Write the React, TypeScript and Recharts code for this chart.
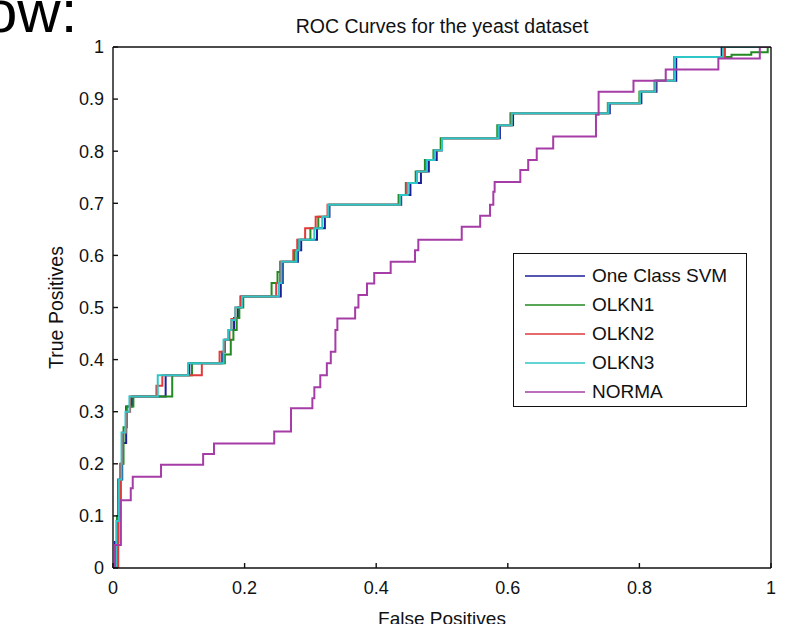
import { LineChart, Line, XAxis, YAxis, Legend } from "recharts";

// ROC points as [false positive rate, true positive rate], top corner of each step
const oneClassSvm: [number, number][] = [
  [0, 0], [0.003, 0.05], [0.008, 0.17], [0.014, 0.24], [0.02, 0.31], [0.029, 0.329],
  [0.08, 0.37], [0.116, 0.393], [0.166, 0.415], [0.17, 0.438], [0.176, 0.457], [0.184, 0.48],
  [0.19, 0.5], [0.194, 0.521], [0.255, 0.547], [0.258, 0.588], [0.281, 0.61], [0.286, 0.63],
  [0.31, 0.652], [0.322, 0.674], [0.329, 0.697], [0.438, 0.716], [0.452, 0.739], [0.468, 0.761],
  [0.48, 0.783], [0.492, 0.802], [0.5, 0.825], [0.588, 0.85], [0.608, 0.873], [0.755, 0.892],
  [0.803, 0.914], [0.826, 0.935], [0.856, 0.981], [0.925, 1], [1, 1],
];
const olkn1: [number, number][] = [
  [0, 0], [0.006, 0.1], [0.011, 0.2], [0.016, 0.27], [0.021, 0.31], [0.031, 0.329],
  [0.09, 0.37], [0.12, 0.393], [0.17, 0.41], [0.179, 0.438], [0.183, 0.457], [0.188, 0.48],
  [0.192, 0.5], [0.198, 0.521], [0.241, 0.547], [0.25, 0.568], [0.255, 0.588], [0.276, 0.61],
  [0.282, 0.63], [0.3, 0.652], [0.312, 0.674], [0.328, 0.697], [0.434, 0.716], [0.445, 0.739],
  [0.46, 0.761], [0.474, 0.783], [0.487, 0.802], [0.498, 0.825], [0.584, 0.85], [0.604, 0.873],
  [0.752, 0.892], [0.8, 0.914], [0.823, 0.935], [0.853, 0.981], [0.94, 0.985], [0.97, 0.99],
  [0.995, 1], [1, 1],
];
const olkn2: [number, number][] = [
  [0, 0], [0.008, 0.13], [0.012, 0.2], [0.015, 0.26], [0.02, 0.3], [0.026, 0.329],
  [0.066, 0.35], [0.075, 0.37], [0.135, 0.393], [0.162, 0.415], [0.17, 0.438], [0.177, 0.457],
  [0.18, 0.478], [0.186, 0.5], [0.194, 0.521], [0.248, 0.547], [0.254, 0.588], [0.274, 0.61],
  [0.28, 0.63], [0.292, 0.652], [0.308, 0.674], [0.326, 0.697], [0.437, 0.716], [0.446, 0.739],
  [0.462, 0.761], [0.476, 0.783], [0.488, 0.802], [0.5, 0.825], [0.586, 0.85], [0.606, 0.873],
  [0.753, 0.892], [0.801, 0.914], [0.824, 0.935], [0.854, 0.981], [0.93, 1], [1, 1],
];
const olkn3: [number, number][] = [
  [0, 0], [0.005, 0.09], [0.009, 0.17], [0.013, 0.26], [0.019, 0.3], [0.025, 0.329],
  [0.068, 0.37], [0.114, 0.393], [0.168, 0.438], [0.175, 0.457], [0.18, 0.476], [0.186, 0.5],
  [0.196, 0.521], [0.252, 0.547], [0.256, 0.588], [0.279, 0.61], [0.283, 0.63], [0.306, 0.652],
  [0.318, 0.674], [0.327, 0.697], [0.436, 0.716], [0.448, 0.739], [0.462, 0.761], [0.477, 0.783],
  [0.489, 0.802], [0.5, 0.825], [0.586, 0.85], [0.606, 0.873], [0.753, 0.892], [0.801, 0.914],
  [0.824, 0.935], [0.854, 0.981], [0.927, 1], [1, 1],
];
const norma: [number, number][] = [
  [0, 0], [0.003, 0.044], [0.012, 0.13], [0.027, 0.153], [0.03, 0.175], [0.073, 0.198],
  [0.137, 0.219], [0.1535, 0.239], [0.245, 0.262], [0.2705, 0.3065], [0.303, 0.326], [0.306, 0.347],
  [0.315, 0.37], [0.325, 0.393], [0.331, 0.415], [0.338, 0.457], [0.341, 0.479], [0.368, 0.5],
  [0.373, 0.524], [0.386, 0.546], [0.397, 0.566], [0.422, 0.588], [0.459, 0.61], [0.464, 0.63],
  [0.53, 0.655], [0.558, 0.676], [0.573, 0.697], [0.578, 0.722], [0.58, 0.741], [0.619, 0.764],
  [0.631, 0.783], [0.644, 0.805], [0.669, 0.828], [0.734, 0.87], [0.738, 0.914], [0.791, 0.935],
  [0.84, 0.957], [0.92, 0.978], [0.983, 1], [1, 1],
];

const seriesNames = ["One Class SVM", "OLKN1", "OLKN2", "OLKN3", "NORMA"];
const seriesPoints = [oneClassSvm, olkn1, olkn2, olkn3, norma];
const seriesColors = ["#1e1e9a", "#218a21", "#e03a3a", "#2ec6c6", "#a63ca6"];

const xTicks = [0, 0.2, 0.4, 0.6, 0.8, 1];
const yTicks = [0, 0.1, 0.2, 0.3, 0.4, 0.5, 0.6, 0.7, 0.8, 0.9, 1];

const FONT = "'Liberation Sans', Arial, Helvetica, sans-serif";
const tickStyle = { fontSize: 18, fill: "#111", fontFamily: FONT };
const frame = { stroke: "#111", strokeWidth: 1.4 };

function LegendBox() {
  return (
    <div
      style={{
        width: 234, height: 154, boxSizing: "border-box", border: "1.5px solid #111",
        background: "#fff", paddingTop: 7, fontFamily: FONT, fontSize: 19, color: "#111",
      }}
    >
      {seriesNames.map((name, i) => (
        <div key={name} style={{ height: 29.2, display: "flex", alignItems: "center" }}>
          <svg width={60} height={4} style={{ marginLeft: 10.5, marginRight: 7.5 }}>
            <line x1={0} y1={2} x2={60} y2={2} stroke={seriesColors[i]} strokeWidth={1.6} />
          </svg>
          <span>{name}</span>
        </div>
      ))}
    </div>
  );
}

export default function App() {
  return (
    <div style={{ position: "absolute", left: 0, top: 0, width: 785, height: 624, background: "#fff", overflow: "hidden" }}>
      <svg width={200} height={60} style={{ position: "absolute", left: 0, top: 0 }}>
        <text x={-16} y={32} fontSize={60} fontFamily={FONT} fill="#000">ow:</text>
      </svg>
      <LineChart width={785} height={624} margin={{ top: 46, right: 13, bottom: 0, left: 0 }}>
        <XAxis
          dataKey="fpr" type="number" domain={[0, 1]} ticks={xTicks} allowDataOverflow
          height={56} tick={tickStyle} tickSize={-5} tickMargin={18}
          tickLine={frame} axisLine={frame}
          tickFormatter={(v: number) => String(v)}
          label={{ value: "False Positives", position: "bottom", offset: -12, fontSize: 19, fill: "#111", fontFamily: FONT }}
        />
        <XAxis
          xAxisId="top" orientation="top" type="number" domain={[0, 1]} ticks={xTicks}
          height={1} tick={false} tickSize={-5} tickLine={frame} axisLine={frame}
          label={{ value: "ROC Curves for the yeast dataset", position: "top", offset: 13, fontSize: 19.5, fill: "#111", fontFamily: FONT }}
        />
        <YAxis
          type="number" domain={[0, 1]} ticks={yTicks} allowDataOverflow
          width={113} tick={tickStyle} tickSize={-5} tickMargin={14}
          tickLine={frame} axisLine={frame}
          tickFormatter={(v: number) => String(v)}
          label={{ value: "True Positives", angle: -90, position: "center", fontSize: 19.5, fill: "#111", fontFamily: FONT }}
        />
        <YAxis
          yAxisId="right" orientation="right" type="number" domain={[0, 1]} ticks={yTicks}
          width={1} tick={false} tickSize={-5} tickLine={frame} axisLine={frame}
        />
        {seriesPoints.map((pts, i) => (
          <Line
            key={seriesNames[i]}
            name={seriesNames[i]}
            data={pts.map(([fpr, tpr]) => ({ fpr, tpr }))}
            dataKey="tpr"
            type="stepAfter"
            stroke={seriesColors[i]}
            strokeWidth={2}
            dot={false}
            activeDot={false}
            isAnimationActive={false}
          />
        ))}
        <Legend
          layout="vertical" align="center" verticalAlign="middle"
          wrapperStyle={{ left: 513, top: 253, width: 234, height: 154 }}
          content={() => <LegendBox />}
        />
      </LineChart>
    </div>
  );
}
